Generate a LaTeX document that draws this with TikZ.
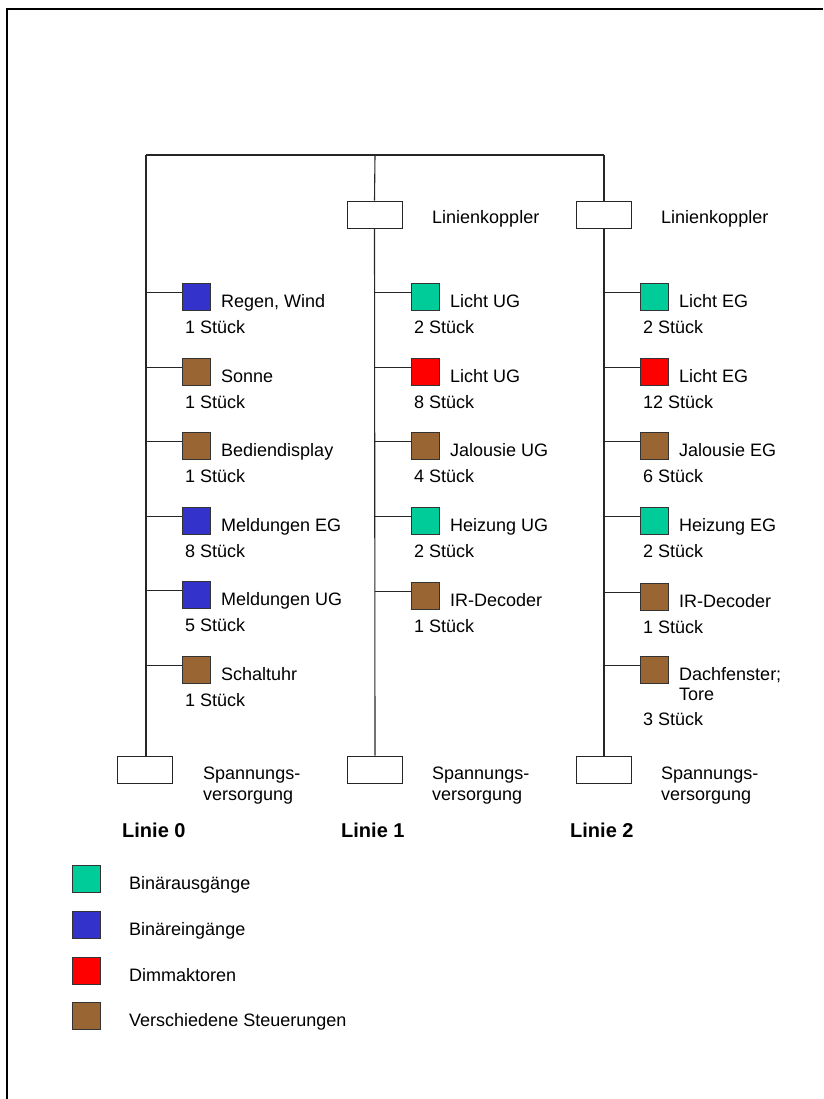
\documentclass[tikz,border=0pt]{standalone}
\usepackage{fontspec}
\setmainfont{Liberation Sans}
\usetikzlibrary{calc}
\definecolor{kgreen}{RGB}{0,204,153}
\definecolor{kblue}{RGB}{51,51,204}
\definecolor{kred}{RGB}{255,0,0}
\definecolor{kbrown}{RGB}{153,102,51}
\newcommand\kitem[7]{%
  \node[sqbox, fill=#4, anchor=north west] (#1) at (#2+36,#3) {};
  \draw[bus] ([yshift=-9.5pt]#1.north west) -- ++(-36,0);
  \node[lbl] (#1l) at (#2+75,#3+24) {#5};
  \node[lbl] (#1c) at (#2+39,#3+#7) {#6 Stück};
}
\begin{document}
\begin{tikzpicture}[x=1pt,y=-1pt,
  bus/.style={draw=black!85, line width=1.1pt},
  sqbox/.style={draw=black!80, line width=0.9pt, minimum width=28pt, minimum height=27pt, inner sep=0pt},
  wbox/.style={draw=black!85, line width=0.9pt, fill=white, minimum width=55pt, minimum height=27pt, inner sep=0pt},
  lbl/.style={anchor=base west, inner sep=0pt, font=\fontsize{18}{21}\selectfont},
  head/.style={anchor=base west, inner sep=0pt, font=\fontsize{20}{24}\selectfont\bfseries}]
\useasboundingbox (0,0) rectangle (823,1099);
% frame
\draw[line width=2.5pt] (7,1099) -- (7,9) -- (823,9);
% bus
\coordinate (t0) at (146,155);
\coordinate (t1) at (375,155);
\coordinate (t2) at (604,155);
\draw[bus] (t0) -- (t2);
% Linienkoppler
\node[wbox] (lk1) at (374.5,214.5) {};
\node[wbox] (lk2) at (604,214.5) {};
\node[lbl] (lk1t) at (432,224) {Linienkoppler};
\node[lbl] (lk2t) at (661,224) {Linienkoppler};
% power supplies
\node[wbox] (ps0) at (144.5,769.5) {};
\node[wbox] (ps1) at (374.5,769.5) {};
\node[wbox] (ps2) at (604,769.5) {};
\foreach \i/\x in {0/203,1/432,2/661}{
  \node[lbl] (sp\i) at (\x,779) {Spannungs-};
  \node[lbl] (sv\i) at (\x,800) {versorgung};
}
% verticals
\draw[bus] (t0) -- (t0 |- ps0.north);
\draw[bus] (t1) -- (lk1.north);
\draw[bus] (lk1.south) -- (t1 |- ps1.north);
\draw[bus] (t2) -- (lk2.north);
\draw[bus] (lk2.south) -- (t2 |- ps2.north);
% line 0
\kitem{a1}{146}{283}{kblue}{Regen, Wind}{1}{50}
\kitem{a2}{146}{358}{kbrown}{Sonne}{1}{50}
\kitem{a3}{146}{432}{kbrown}{Bediendisplay}{1}{50}
\kitem{a4}{146}{507}{kblue}{Meldungen EG}{8}{50}
\kitem{a5}{146}{581}{kblue}{Meldungen UG}{5}{50}
\kitem{a6}{146}{656}{kbrown}{Schaltuhr}{1}{50}
% line 1
\kitem{b1}{375}{283}{kgreen}{Licht UG}{2}{50}
\kitem{b2}{375}{358}{kred}{Licht UG}{8}{50}
\kitem{b3}{375}{432}{kbrown}{Jalousie UG}{4}{50}
\kitem{b4}{375}{507}{kgreen}{Heizung UG}{2}{50}
\kitem{b5}{375}{582}{kbrown}{IR-Decoder}{1}{50}
% line 2
\kitem{c1}{604}{283}{kgreen}{Licht EG}{2}{50}
\kitem{c2}{604}{358}{kred}{Licht EG}{12}{50}
\kitem{c3}{604}{432}{kbrown}{Jalousie EG}{6}{50}
\kitem{c4}{604}{507}{kgreen}{Heizung EG}{2}{50}
\kitem{c5}{604}{583}{kbrown}{IR-Decoder}{1}{50}
\kitem{c6}{604}{656}{kbrown}{Dachfenster;}{3}{69}
\node[lbl] (c6t) at (679,700) {Tore};
% line labels
\node[head] (h0) at (122,837) {Linie 0};
\node[head] (h1) at (341,837) {Linie 1};
\node[head] (h2) at (570,837) {Linie 2};
% legend
\foreach \i/\y/\c/\t in {1/865/kgreen/Binärausgänge,2/911/kblue/Binäreingänge,3/957/kred/Dimmaktoren,4/1002/kbrown/Verschiedene Steuerungen}{
  \node[sqbox, fill=\c, anchor=north west] (lg\i) at (72,\y) {};
  \node[lbl] (lt\i) at (129,\y+24) {\t};
}
\end{tikzpicture}
\end{document}
